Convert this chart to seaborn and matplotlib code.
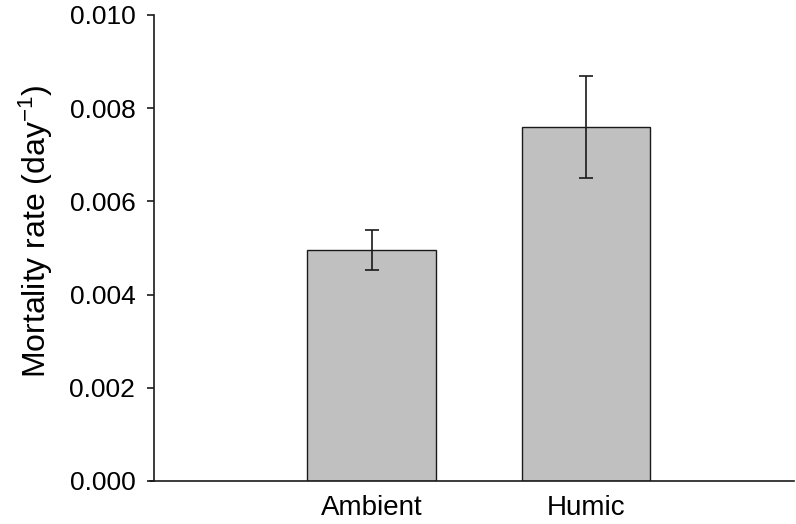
import matplotlib
matplotlib.use("Agg")
import matplotlib.pyplot as plt
import seaborn as sns
import pandas as pd

# values
treatments = ["Ambient", "Humic"]
mortality = [0.00495, 0.00759]
mortality_se = [0.00043, 0.00109]
y_ticks = [0.000, 0.002, 0.004, 0.006, 0.008, 0.010]

sns.set_theme(style="white")
plt.rcParams["font.family"] = ["Liberation Sans", "DejaVu Sans"]
plt.rcParams["mathtext.fontset"] = "custom"
plt.rcParams["mathtext.rm"] = "Liberation Sans"
plt.rcParams["mathtext.it"] = "Liberation Sans:italic"
plt.rcParams["mathtext.bf"] = "Liberation Sans:bold"

df = pd.DataFrame({"treatment": treatments, "rate": mortality, "se": mortality_se})

fig = plt.figure(figsize=(7.96, 5.24), dpi=100)
ax = fig.add_axes([0.1884, 0.0821, 0.8091, 0.8893])

sns.barplot(data=df, x="treatment", y="rate", color="#c0c0c0", saturation=1,
            edgecolor="#1a1a1a", linewidth=1.0, width=0.6, errorbar=None, ax=ax)
ax.errorbar(range(len(df)), df["rate"], yerr=df["se"], fmt="none",
            ecolor="#1a1a1a", elinewidth=1.2, capsize=4.7, capthick=1.2)

ax.set_xlim(-1.033, 1.97)
ax.set_ylim(0, 0.010)
ax.set_yticks(y_ticks)
ax.set_yticklabels([f"{t:.3f}" for t in y_ticks])

for s in ["top", "right"]:
    ax.spines[s].set_visible(False)
ax.spines["left"].set_position(("data", -1.014))
for s in ["left", "bottom"]:
    ax.spines[s].set_color("#1a1a1a")
    ax.spines[s].set_linewidth(1.2)

ax.tick_params(axis="y", left=True, length=5, width=1.2, color="#1a1a1a",
               labelsize=19, pad=8.5, labelcolor="black")
ax.tick_params(axis="x", bottom=False, labelsize=20, pad=4, labelcolor="black")

ax.set_xlabel("")
ax.set_ylabel("Mortality rate (day$^{-1}$)", fontsize=23, color="black")
ax.yaxis.set_label_coords(-0.147, 0.535)

fig.savefig("out.png", dpi=100)
